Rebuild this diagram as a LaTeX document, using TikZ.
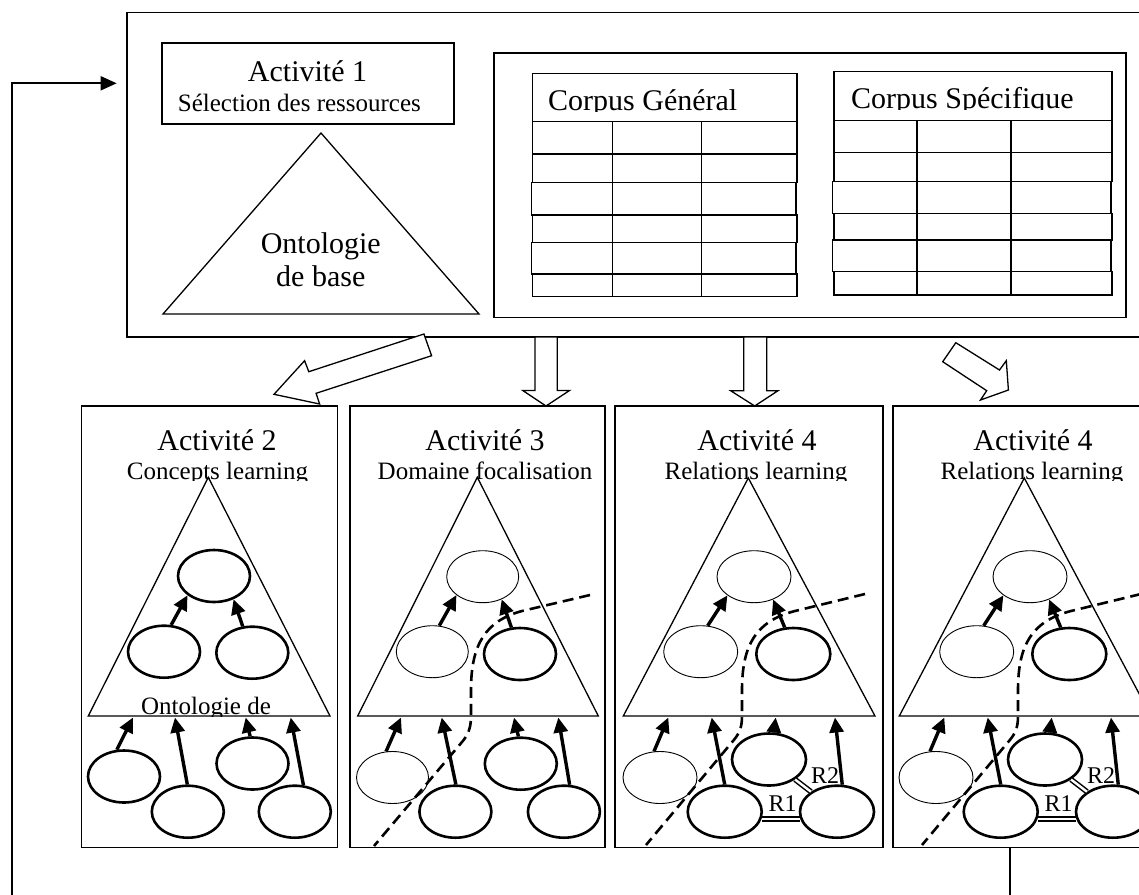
\documentclass[tikz,border=0pt]{standalone}
\usepackage{fontspec}
\setmainfont{Liberation Serif}
\usetikzlibrary{arrows.meta,shapes.geometric}
\begin{document}
\begin{tikzpicture}[x=1pt,y=-1pt,
  rbox/.style={draw,rectangle,line width=1.5pt,inner sep=0pt,outer sep=0pt,anchor=north west},
  tri/.style={draw,line width=1.3pt,line join=miter},
  blk/.style={draw,fill=white,line width=1.3pt,line join=miter},
  tbl/.style={draw,line width=1.4pt},
  ellK/.style={ellipse,draw,fill=white,line width=2.6pt,minimum width=72pt,minimum height=52pt,inner sep=0pt},
  ellT/.style={ellK,line width=0.9pt},
  ellKw/.style={ellK,minimum width=74pt},
  ellTw/.style={ellT,minimum width=74pt},
  arr/.style={line width=3.4pt,-{Triangle[length=15pt,width=14pt]}},
  dsh/.style={line width=2.6pt,dash pattern=on 11pt off 6pt},
  rel/.style={double,line width=1.5pt,double distance=2.4pt},
  ttl/.style={font=\fontsize{30}{36}\selectfont,anchor=base,inner sep=0pt},
  sbt/.style={font=\fontsize{25}{30}\selectfont,anchor=base,inner sep=0pt},
  rlb/.style={font=\fontsize{24}{28}\selectfont,anchor=base,inner sep=0pt},
  fb/.style={line width=1.8pt}]
\useasboundingbox (0,0) rectangle (1139,894);
\clip (0,0) rectangle (1139,894);

% ---------- top box ----------
\node[rbox,minimum width=1033pt,minimum height=324.7pt] (top) at (127,12.3) {};
\node[rbox,minimum width=292pt,minimum height=81pt] (a1) at (162,43) {};
\node[ttl] (a1t) at (307.5,81.7) {Activité 1};
\node[sbt,anchor=base west] (a1s) at (177.7,111.7) {Sélection des ressources};
\draw[tri] (321,133) -- (479,314) -- (163,314) -- cycle;
\node[ttl] (ont1) at (320.8,253.3) {Ontologie};
\node[ttl] (ont2) at (320.8,286.7) {de base};

% ---------- corpus ----------
\node[rbox,minimum width=632pt,minimum height=264.5pt] (corp) at (494,53) {};
% Corpus General
\draw[tbl] (532.7,73.3) rectangle (796.8,121.7);
\begin{scope}
  \clip (534,74.5) rectangle (795,111.2);
  \node[ttl,anchor=base west] (cg) at (548,110) {Corpus Général};
\end{scope}
\draw[tbl] (532.7,121.7) rectangle (796.8,154);
\draw[tbl] (532.7,154) rectangle (796.8,182.3);
\draw[tbl] (531.3,182.3) rectangle (796,215);
\draw[tbl] (532.7,215) rectangle (796.8,242.3);
\draw[tbl] (531.3,242.3) rectangle (796,274);
\draw[tbl] (532.7,274) rectangle (796.8,296.7);
\draw[tbl] (612.3,121.7) -- (612.3,296.7) (701.4,121.7) -- (701.4,296.7);
% Corpus Specifique
\draw[tbl] (834,71.7) rectangle (1112,120.7);
\begin{scope}
  \clip (835,73) rectangle (1111,109.6);
  \node[ttl,anchor=base west] (cs) at (851,108.5) {Corpus Spécifique};
\end{scope}
\draw[tbl] (834,120.7) rectangle (1112,152.3);
\draw[tbl] (834,152.3) rectangle (1112,181.7);
\draw[tbl] (832.5,181.7) rectangle (1111,213.3);
\draw[tbl] (834,213.3) rectangle (1112,240);
\draw[tbl] (832.5,240) rectangle (1111,271.7);
\draw[tbl] (834,271.7) rectangle (1112,295);
\draw[tbl] (917,120.7) -- (917,295) (1011,120.7) -- (1011,295);

% ---------- block arrows ----------
\draw[blk] (423.9,334) -- (308.8,371.7) -- (304.6,360.7) -- (274,394.3) -- (319.6,404) -- (316.1,393.3) -- (431.6,355.7) -- cycle;
\draw[blk] (535,337) -- (535,390.5) -- (522.8,390.5) -- (546,406) -- (569.5,390.5) -- (557.2,390.5) -- (557.2,337) -- cycle;
\draw[blk] (743.7,337) -- (743.7,390.7) -- (730.6,390.7) -- (754.7,406) -- (778,390.7) -- (766.7,390.7) -- (766.7,337) -- cycle;
\draw[blk] (955.8,342.7) -- (999.5,370) -- (1006.3,360.7) -- (1008.4,390) -- (980.5,400) -- (986.7,390.7) -- (942.7,361.7) -- cycle;

% ---------- panels ----------
\node[rbox,minimum width=255.6pt,minimum height=441.3pt] (p2) at (81.7,406) {};
\node[rbox,minimum width=255pt,minimum height=441.3pt] (p3) at (350,406) {};
\node[rbox,minimum width=268pt,minimum height=441.3pt] (p4) at (615,406) {};
\node[rbox,minimum width=267pt,minimum height=441.3pt] (p5) at (893,406) {};

% ---------- panel 2 ----------
\node[ttl] (t2) at (217,450) {Activité 2};
\begin{scope}
  \clip (83,455) rectangle (336,480.8);
  \node[sbt] (s2) at (217.5,479) {Concepts learning};
\end{scope}
\draw[tri] (208.3,477.3) -- (330,716) -- (88.3,716) -- cycle;
\begin{scope}
  \clip (90,690) rectangle (330,716.3);
  \node[sbt] (o2) at (206,714) {Ontologie de};
\end{scope}
\node[ellK] (p2-T) at (214,576) {};
\node[ellK] (p2-M1) at (164,651.7) {};
\node[ellK] (p2-M2) at (252.3,652.7) {};
\node[ellK] (p2-B1) at (124,776.5) {};
\node[ellK] (p2-B2) at (187.8,811.7) {};
\node[ellK] (p2-B3) at (252.5,763.5) {};
\node[ellK] (p2-B4) at (294.8,811.7) {};
\coordinate (p2-b1) at (133,717.5);
\coordinate (p2-b2) at (175,717.5);
\coordinate (p2-b3) at (245.7,717.5);
\coordinate (p2-b4) at (290.7,717.5);
\draw[arr] (p2-M1.75) -- (p2-T.216);
\draw[arr] (p2-M2.110) -- (p2-T.-50);
\draw[arr] (p2-B1.105) -- (p2-b1);
\draw[arr] (p2-B2.91) -- (p2-b2);
\draw[arr] (p2-B3.95) -- (p2-b3);
\draw[arr] (p2-B4.72) -- (p2-b4);

% ---------- panel 3 ----------
\node[ttl] (t3) at (485,450) {Activité 3};
\begin{scope}
  \clip (351,455) rectangle (604,480.8);
  \node[sbt] (s3) at (485,479) {Domaine focalisation};
\end{scope}
\draw[tri] (477.3,477.3) -- (598.3,716) -- (357.7,716) -- cycle;
\node[ellT] (p3-T) at (482.7,576.7) {};
\node[ellT] (p3-M1) at (432.3,651.7) {};
\node[ellK] (p3-M2) at (520,654) {};
\node[ellT] (p3-B1) at (392.5,777.5) {};
\node[ellK] (p3-B2) at (455.4,811.7) {};
\node[ellK] (p3-B3) at (520.8,763.7) {};
\node[ellK] (p3-B4) at (563.9,811.7) {};
\coordinate (p3-b1) at (401,717.5);
\coordinate (p3-b2) at (441.7,717.5);
\coordinate (p3-b3) at (514,717.5);
\coordinate (p3-b4) at (558.3,717.5);
\draw[arr] (p3-M1.75) -- (p3-T.215);
\draw[arr] (p3-M2.108) -- (p3-T.-50);
\draw[arr] (p3-B1.104) -- (p3-b1);
\draw[arr] (p3-B2.89) -- (p3-b2);
\draw[arr] (p3-B3.95) -- (p3-b3);
\draw[arr] (p3-B4.78) -- (p3-b4);
\draw[dsh] (590,595) -- (522,611) .. controls (485,621) and (471,645) .. (471,690) -- (471,716)
  .. controls (471,728) and (468,735) .. (462,742) -- (374,846);

% ---------- panels 4 and 5 ----------
\foreach \s/\n in {0/4,276/5}{
\begin{scope}[shift={(\s,0)}]
  \node[ttl] (t\n) at (757,450) {Activité 4};
  \begin{scope}
    \clip (616,455) rectangle (882,480.8);
    \node[sbt] (s\n) at (756,479) {Relations learning};
  \end{scope}
  \draw[tri] (748.3,478) -- (875,716) -- (623.3,716) -- cycle;
  \node[ellTw] (p\n-T) at (754,576.7) {};
  \node[ellTw] (p\n-M1) at (700.7,651.7) {};
  \node[ellKw] (p\n-M2) at (793.3,654) {};
  \node[ellTw] (p\n-B1) at (660,777.5) {};
  \node[ellKw] (p\n-B2) at (724.7,811.7) {};
  \node[ellKw] (p\n-B3) at (769,759.5) {};
  \node[ellKw] (p\n-B4) at (837,811.7) {};
  \coordinate (p\n-b1) at (668.3,717.5);
  \coordinate (p\n-b2) at (711.7,717.5);
  \coordinate (p\n-b3) at (775.7,717.5);
  \coordinate (p\n-b4) at (835,717.5);
  \draw[arr] (p\n-M1.75) -- (p\n-T.215);
  \draw[arr] (p\n-M2.108) -- (p\n-T.-50);
  \draw[arr] (p\n-B1.103) -- (p\n-b1);
  \draw[arr] (p\n-B2.90) -- (p\n-b2);
  \draw[arr] (p\n-B3.80) -- (p\n-b3);
  \draw[arr] (p\n-B4.79) -- (p\n-b4);
  \draw[rel] (p\n-B2.-11) -- (p\n-B4.191);
  \draw[rel] (p\n-B3) -- (p\n-B4);
  \node[rlb] (r1-\n) at (782.5,811.7) {R1};
  \node[rlb] (r2-\n) at (825,783.3) {R2};
  \draw[dsh] (865,594) -- (795,611) .. controls (756,621) and (742,645) .. (742,690) -- (742,716)
    .. controls (742,728) and (739,734) .. (733,741) -- (646,845);
\end{scope}
}

% ---------- feedback connector ----------
\coordinate (fbA) at (1010,847.3);
\coordinate (fbB) at (12.3,910);
\coordinate (fbC) at (116.7,83.3);
\draw[fb,-{Triangle[length=16pt,width=14pt]}] (fbA) |- (fbB) |- (fbC);
\end{tikzpicture}
\end{document}
